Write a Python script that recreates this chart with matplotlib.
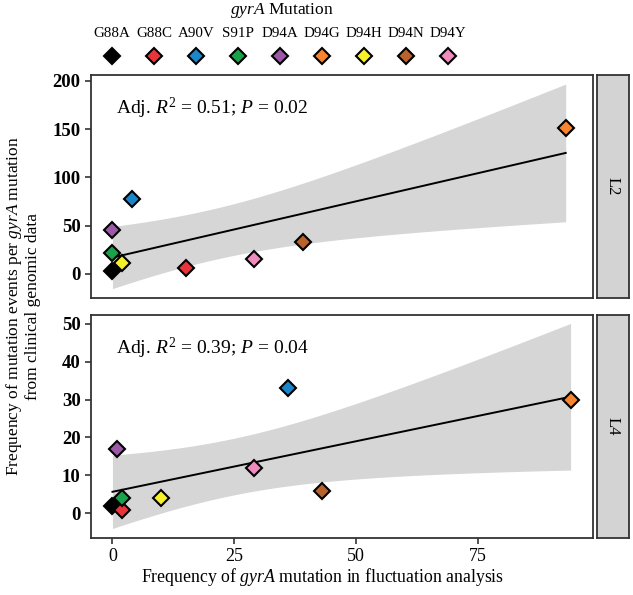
import numpy as np
import matplotlib.pyplot as plt

plt.rcParams['font.family'] = 'Liberation Serif'
plt.rcParams['mathtext.fontset'] = 'custom'
plt.rcParams['mathtext.rm'] = 'Liberation Serif'
plt.rcParams['mathtext.it'] = 'Liberation Serif:italic'

mutations = ['G88A', 'G88C', 'A90V', 'S91P', 'D94A', 'D94G', 'D94H', 'D94N', 'D94Y']
colors = ['#000000', '#e8343a', '#1b86c9', '#19a24b', '#9b59a8',
          '#f7852f', '#f5f02a', '#b8622c', '#f08bbd']

# L2 lineage
x_l2 = [0, 15, 4, 0, 0, 93, 2, 39, 29]
y_l2 = [3, 6, 78, 22, 45, 151, 11, 33, 15]
# L4 lineage
x_l4 = [0, 2, 36, 2, 1, 94, 10, 43, 29]
y_l4 = [2, 1, 33, 4, 17, 30, 4, 6, 12]

stats_l2 = 'Adj. $R^2$ = 0.51; $P$ = 0.02'
stats_l4 = 'Adj. $R^2$ = 0.39; $P$ = 0.04'

T975_DF7 = 2.364624  # t quantile, n - 2 = 7 degrees of freedom

edge = '#333333'


def lm_fit(ax, x, y):
    x = np.asarray(x, float)
    y = np.asarray(y, float)
    n = len(x)
    slope, icpt = np.polyfit(x, y, 1)
    resid = y - (icpt + slope * x)
    s = np.sqrt(np.sum(resid ** 2) / (n - 2))
    sxx = np.sum((x - x.mean()) ** 2)
    xs = np.linspace(x.min(), x.max(), 100)
    fit = icpt + slope * xs
    se = s * np.sqrt(1 / n + (xs - x.mean()) ** 2 / sxx)
    ax.fill_between(xs, fit - T975_DF7 * se, fit + T975_DF7 * se,
                    color='#d6d6d6', lw=0, zorder=1)
    ax.plot(xs, fit, color='black', lw=1.4, zorder=2)


def style(ax):
    for sp in ax.spines.values():
        sp.set_color(edge)
        sp.set_linewidth(1.3)
    ax.tick_params(axis='x', direction='out', length=4, width=1.2, color=edge,
                   labelsize=13, labelcolor='black')
    ax.tick_params(axis='y', direction='out', length=4, width=1.2, color=edge,
                   labelsize=13.5, labelcolor='black')
    for lab in ax.get_yticklabels():
        lab.set_fontweight('bold')


def strip(rect, label):
    sax = fig.add_axes(rect)
    sax.set_facecolor('#d3d3d3')
    sax.set_xticks([])
    sax.set_yticks([])
    for sp in sax.spines.values():
        sp.set_color(edge)
        sp.set_linewidth(1.3)
    sax.text(0.5, 0.5, label, rotation=270, ha='center', va='center',
             fontsize=12, transform=sax.transAxes)


fig = plt.figure(figsize=(6.33, 5.95), dpi=100)

ax1 = fig.add_axes([0.1438, 0.4992, 0.793, 0.3748])
ax2 = fig.add_axes([0.1438, 0.0958, 0.793, 0.3748])

for ax, x, y, txt in [(ax1, x_l2, y_l2, stats_l2), (ax2, x_l4, y_l4, stats_l4)]:
    lm_fit(ax, x, y)
    for xi, yi, c in zip(x, y, colors):
        ax.plot(xi, yi, marker='D', ms=8.5, mfc=c, mec='black', mew=1.5,
                ls='none', zorder=3)
    ax.text(0.049, 0.85, txt, transform=ax.transAxes, fontsize=14,
            ha='left', va='center')
    ax.set_xlim(-4.4, 98.6)

ax1.set_ylim(-25, 206)
ax1.set_yticks([0, 50, 100, 150, 200])
ax1.set_xticks([])
ax2.set_ylim(-6.5, 52.3)
ax2.set_yticks([0, 10, 20, 30, 40, 50])
ax2.set_xticks([0, 25, 50, 75])
style(ax1)
style(ax2)

strip([0.9425, 0.4992, 0.0505, 0.3748], 'L2')
strip([0.9425, 0.0958, 0.0505, 0.3748], 'L4')

fig.text(0.509, 0.031, 'Frequency of $gyrA$ mutation in fluctuation analysis',
         ha='center', va='center', fontsize=12.8)
fig.text(0.036, 0.485,
         'Frequency of mutation events per $gyrA$ mutation\nfrom clinical genomic data',
         rotation=90, ha='center', va='center', fontsize=12.5, linespacing=1.05)

# legend row: labels above diamonds
lax = fig.add_axes([0.177, 1 - 62 / 595, 0.531, 37 / 595])
lax.set_xlim(0, len(mutations) - 1)
lax.set_ylim(0, 1)
lax.axis('off')
for i, (m, c) in enumerate(zip(mutations, colors)):
    lax.plot(i, 0.16, marker='D', ms=8.5, mfc=c, mec='black', mew=1.5,
             clip_on=False)
    lax.text(i, 0.78, m, ha='center', va='center', fontsize=10.8)
fig.text(0.445, 0.983, '$gyrA$ Mutation', ha='center', va='center', fontsize=12.5)

fig.savefig('out.png', dpi=100)
